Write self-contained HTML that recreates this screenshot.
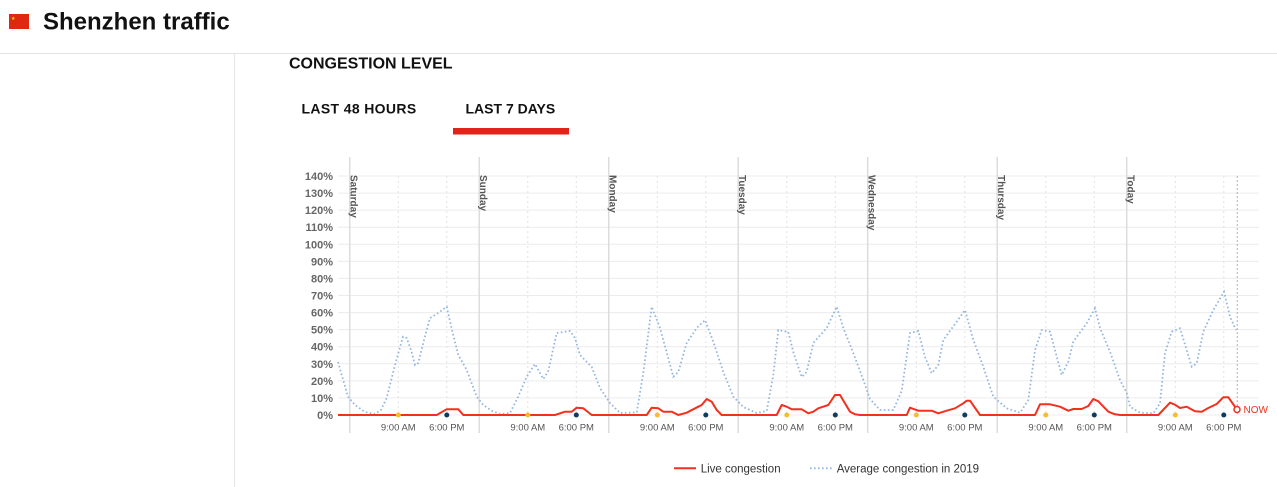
<!DOCTYPE html>
<html><head><meta charset="utf-8"><style>
html,body{margin:0;padding:0;background:#fff;}
body{width:1277px;height:487px;overflow:hidden;position:relative;font-family:"Liberation Sans",Arial,sans-serif;}
svg{position:absolute;left:0;top:0;}
</style></head><body>
<svg width="1277" height="487" viewBox="0 0 1277 487" xmlns="http://www.w3.org/2000/svg" font-family="Liberation Sans, Arial, sans-serif">
<!-- header -->
<rect x="9" y="14" width="20" height="15" fill="#de2910"/>
<text x="11" y="20" font-size="5" fill="#ffde00">★</text>
<text x="43" y="29.5" font-size="24" font-weight="bold" fill="#111">Shenzhen traffic</text>
<line x1="0" y1="53.5" x2="1277" y2="53.5" stroke="#e2e2e2" stroke-width="1"/>
<line x1="234.5" y1="54" x2="234.5" y2="487" stroke="#e6e6e6" stroke-width="1"/>
<text x="289" y="68.3" font-size="16" font-weight="bold" fill="#111">CONGESTION LEVEL</text>
<text x="301.5" y="113.3" font-size="14" font-weight="bold" fill="#111" letter-spacing="0.35">LAST 48 HOURS</text>
<text x="465.5" y="113.3" font-size="14" font-weight="bold" fill="#111">LAST 7 DAYS</text>
<rect x="453" y="128" width="116" height="6.5" fill="#e2231a"/>

<!-- horizontal grid -->
<g stroke="#ececec" stroke-width="1">
<line x1="338" y1="176" x2="1259" y2="176"/>
<line x1="338" y1="193.1" x2="1259" y2="193.1"/>
<line x1="338" y1="210.1" x2="1259" y2="210.1"/>
<line x1="338" y1="227.2" x2="1259" y2="227.2"/>
<line x1="338" y1="244.3" x2="1259" y2="244.3"/>
<line x1="338" y1="261.4" x2="1259" y2="261.4"/>
<line x1="338" y1="278.4" x2="1259" y2="278.4"/>
<line x1="338" y1="295.5" x2="1259" y2="295.5"/>
<line x1="338" y1="312.6" x2="1259" y2="312.6"/>
<line x1="338" y1="329.6" x2="1259" y2="329.6"/>
<line x1="338" y1="346.7" x2="1259" y2="346.7"/>
<line x1="338" y1="363.8" x2="1259" y2="363.8"/>
<line x1="338" y1="380.9" x2="1259" y2="380.9"/>
<line x1="338" y1="397.9" x2="1259" y2="397.9"/>
<line x1="338" y1="415" x2="1259" y2="415"/>
</g>
<!-- y labels -->
<g font-size="11" font-weight="bold" fill="#666" text-anchor="end">
<text x="333" y="180">140%</text>
<text x="333" y="197.1">130%</text>
<text x="333" y="214.1">120%</text>
<text x="333" y="231.2">110%</text>
<text x="333" y="248.3">100%</text>
<text x="333" y="265.4">90%</text>
<text x="333" y="282.4">80%</text>
<text x="333" y="299.5">70%</text>
<text x="333" y="316.6">60%</text>
<text x="333" y="333.6">50%</text>
<text x="333" y="350.7">40%</text>
<text x="333" y="367.8">30%</text>
<text x="333" y="384.9">20%</text>
<text x="333" y="401.9">10%</text>
<text x="333" y="419">0%</text>
</g>
<!-- vertical dotted grid at 9am / 6pm -->
<g stroke="#e2e2e2" stroke-width="1" stroke-dasharray="2,3">
<line x1="398.3" y1="176" x2="398.3" y2="415"/><line x1="446.8" y1="176" x2="446.8" y2="415"/>
<line x1="527.8" y1="176" x2="527.8" y2="415"/><line x1="576.3" y1="176" x2="576.3" y2="415"/>
<line x1="657.3" y1="176" x2="657.3" y2="415"/><line x1="705.8" y1="176" x2="705.8" y2="415"/>
<line x1="786.8" y1="176" x2="786.8" y2="415"/><line x1="835.3" y1="176" x2="835.3" y2="415"/>
<line x1="916.3" y1="176" x2="916.3" y2="415"/><line x1="964.8" y1="176" x2="964.8" y2="415"/>
<line x1="1045.8" y1="176" x2="1045.8" y2="415"/><line x1="1094.3" y1="176" x2="1094.3" y2="415"/>
<line x1="1175.3" y1="176" x2="1175.3" y2="415"/><line x1="1223.8" y1="176" x2="1223.8" y2="415"/>
</g>
<line x1="1237.3" y1="176" x2="1237.3" y2="415" stroke="#bdbdbd" stroke-width="1.2" stroke-dasharray="2,2"/>
<!-- day lines -->
<g stroke="#dcdcdc" stroke-width="1.5">
<line x1="349.7" y1="157" x2="349.7" y2="433"/>
<line x1="479.2" y1="157" x2="479.2" y2="433"/>
<line x1="608.7" y1="157" x2="608.7" y2="433"/>
<line x1="738.2" y1="157" x2="738.2" y2="433"/>
<line x1="867.7" y1="157" x2="867.7" y2="433"/>
<line x1="997.2" y1="157" x2="997.2" y2="433"/>
<line x1="1126.7" y1="157" x2="1126.7" y2="433"/>
</g>
<g font-size="10" font-weight="bold" fill="#555">
<text transform="translate(350.5,175) rotate(90)">Saturday</text>
<text transform="translate(480,175) rotate(90)">Sunday</text>
<text transform="translate(609.5,175) rotate(90)">Monday</text>
<text transform="translate(739,175) rotate(90)">Tuesday</text>
<text transform="translate(868.5,175) rotate(90)">Wednesday</text>
<text transform="translate(998,175) rotate(90)">Thursday</text>
<text transform="translate(1127.5,175) rotate(90)">Today</text>
</g>
<!-- average line -->
<polyline fill="none" stroke="#93b6e0" stroke-width="1.8" stroke-dasharray="1.6,2.4" points="338,362 348,396.7 355,405 365,412 375,414 381,410 386.7,398 395,365 403,336.7 406.7,338 411,350 415,365 418.3,363 424,340 430,318 436.7,314 446.7,306.7 452,330 458.3,355 466.7,370 476.7,396.7 483.3,405 492,411 500,414 510,413 518,397 526.7,376.7 535,364 543.3,379 548.3,371 556.7,333 570,331 575,338 580,355 591.7,367 600,388 610,403 620,413 636.7,412.5 643.3,373 651.7,306.7 660,328 673.3,376.7 678.3,372 686.7,343 696.7,328 705,320 713.3,341.7 723.3,372 733.3,396.7 743.3,407 756.7,413 766.7,411 773.3,375 778.3,330 788.3,332 793.3,352 801.7,377 806.7,372 813.3,343 826.7,328 836.7,306.7 843.3,328 853.3,353 863.3,380 870,399 880,410 893.3,410 901.7,391 910,333 918.3,331 925,357 931.7,373.3 938.3,365 943.3,340 956.7,321.7 965,310 973.3,340 983.3,366.7 993.3,396.7 1006.7,408.3 1020,412.7 1028.3,400 1035,350 1041.7,330 1050,331.7 1061.7,375 1068.3,361.7 1073.3,341.7 1086.7,323.3 1095,308.3 1100,328 1110,351.7 1120,380 1126.7,393 1130,406.7 1140,412.7 1153.3,413.3 1160,403.3 1165,353.3 1171.7,331.7 1180,328.3 1186.7,350 1191.7,366.7 1196.7,363.3 1203.3,331.7 1213.3,310 1224,291.7 1230,316.7 1236,330"/>
<!-- live line -->
<polyline fill="none" stroke="#f2301f" stroke-width="2" stroke-linejoin="round" points="338,415 436.7,415 446.7,409.3 458.3,409.3 463.3,415 555,415 565,411.7 571.7,411.7 576.7,407.7 583.3,408.3 591.7,415 646.7,415 651.7,407.7 658.3,408.3 663.3,411.7 671.7,411.7 678.3,415 686.7,412.7 698.3,406.7 701.7,405 706.7,399 711.7,401.7 716.7,410 721.7,415 776.7,415 781.7,405 786.7,406.7 791.7,409.3 801.7,409.3 808.3,413.3 813.3,411.7 818.3,408.3 828.3,405 835,395 840,395 850,411.7 855,414.3 860,415 906.7,415 910,407.7 918.3,410.7 931.7,410.7 938.3,413.3 946.7,410.7 955,408.3 963.3,403.3 966.7,400.7 970,400.7 980,415 1035,415 1040,404.3 1050,404.3 1060,406.7 1068.3,410.7 1073.3,409 1081.7,409 1088.3,406 1093.3,399 1098.3,401.3 1108.3,411.7 1115,414.3 1120,415 1158.3,415 1170,402.7 1175,404.7 1180,408 1186.7,406.7 1195,411.3 1201.7,411.7 1208.3,408 1216.7,404 1223.3,397.3 1228.3,397.3 1237,409.5"/>
<circle cx="1237" cy="409.5" r="3" fill="#fff" stroke="#f2301f" stroke-width="1.5"/>
<text x="1243.5" y="413" font-size="10" fill="#f2301f">NOW</text>
<!-- markers -->
<g fill="#f7bd2e">
<circle cx="398.3" cy="415" r="2.5"/><circle cx="527.8" cy="415" r="2.5"/><circle cx="657.3" cy="415" r="2.5"/><circle cx="786.8" cy="415" r="2.5"/><circle cx="916.3" cy="415" r="2.5"/><circle cx="1045.8" cy="415" r="2.5"/><circle cx="1175.3" cy="415" r="2.5"/>
</g>
<g fill="#0d3b62">
<circle cx="446.8" cy="415" r="2.5"/><circle cx="576.3" cy="415" r="2.5"/><circle cx="705.8" cy="415" r="2.5"/><circle cx="835.3" cy="415" r="2.5"/><circle cx="964.8" cy="415" r="2.5"/><circle cx="1094.3" cy="415" r="2.5"/><circle cx="1223.8" cy="415" r="2.5"/>
</g>
<g font-size="9.5" fill="#555" text-anchor="middle">
<text x="398.3" y="430.5">9:00 AM</text><text x="446.8" y="430.5">6:00 PM</text>
<text x="527.8" y="430.5">9:00 AM</text><text x="576.3" y="430.5">6:00 PM</text>
<text x="657.3" y="430.5">9:00 AM</text><text x="705.8" y="430.5">6:00 PM</text>
<text x="786.8" y="430.5">9:00 AM</text><text x="835.3" y="430.5">6:00 PM</text>
<text x="916.3" y="430.5">9:00 AM</text><text x="964.8" y="430.5">6:00 PM</text>
<text x="1045.8" y="430.5">9:00 AM</text><text x="1094.3" y="430.5">6:00 PM</text>
<text x="1175.3" y="430.5">9:00 AM</text><text x="1223.8" y="430.5">6:00 PM</text>
</g>
<!-- legend -->
<line x1="674" y1="468.3" x2="696" y2="468.3" stroke="#f2301f" stroke-width="2"/>
<text x="700.7" y="472.3" font-size="11.5" fill="#333">Live congestion</text>
<line x1="810" y1="468.3" x2="832" y2="468.3" stroke="#93b6e0" stroke-width="1.8" stroke-dasharray="1.6,2.4"/>
<text x="836.7" y="472.3" font-size="11.5" fill="#333">Average congestion in 2019</text>
</svg>
</body></html>
